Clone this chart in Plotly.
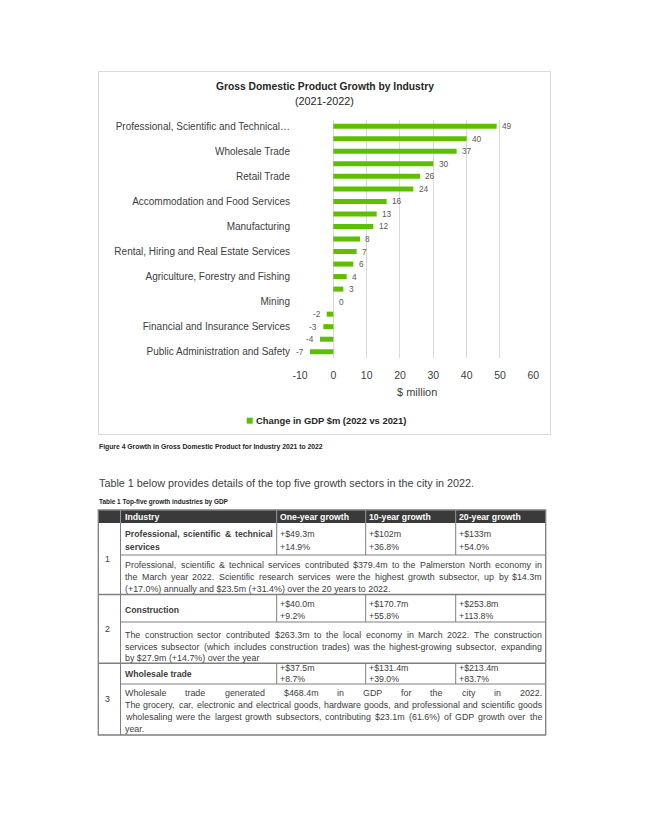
import plotly.graph_objects as go

PAGE_OFF = 8              # default body margin of the html page
W, H = 629, 818           # figure size so the page fits the 645x834 window
FONT = "Liberation Sans, Arial, sans-serif"

# ---------------- chart data ----------------
industries = [
    "Professional, Scientific and Technical Services",
    "Construction",
    "Wholesale Trade",
    "Health Care and Social Assistance",
    "Retail Trade",
    "Education and Training",
    "Accommodation and Food Services",
    "Transport, Postal and Warehousing",
    "Manufacturing",
    "Information Media and Telecommunications",
    "Rental, Hiring and Real Estate Services",
    "Administrative and Support Services",
    "Agriculture, Forestry and Fishing",
    "Arts and Recreation Services",
    "Mining",
    "Other Services",
    "Financial and Insurance Services",
    "Electricity, Gas, Water and Waste Services",
    "Public Administration and Safety",
]
gdp_change = [49, 40, 37, 30, 26, 24, 16, 13, 12, 8, 7, 6, 4, 3, 0, -2, -3, -4, -7]
tick_categories = industries[::2]
tick_labels = [
    "Professional, Scientific and Technical…",
    "Wholesale Trade",
    "Retail Trade",
    "Accommodation and Food Services",
    "Manufacturing",
    "Rental, Hiring and Real Estate Services",
    "Agriculture, Forestry and Fishing",
    "Mining",
    "Financial and Insurance Services",
    "Public Administration and Safety",
]
x_tick_values = [-10, 0, 10, 20, 30, 40, 50, 60]
chart_title = "Gross Domestic Product Growth by Industry"
chart_subtitle = "(2021-2022)"
x_title = "$ million"
series_name = "Change in GDP $m (2022 vs 2021)"

# ---------------- page text ----------------
figure_caption = "Figure 4 Growth in Gross Domestic Product for Industry 2021 to 2022"
intro_text = "Table 1 below provides details of the top five growth sectors in the city in 2022."
table_caption = "Table 1 Top-five growth industries by GDP"

# ---------------- table data ----------------
table_header = ["Industry", "One-year growth", "10-year growth", "20-year growth"]
table_rank = ["1", "2", "3"]
table_industry = [["Professional, scientific & technical", "services"],
                  ["Construction"],
                  ["Wholesale trade"]]
one_year_growth = [["+$49.3m", "+14.9%"], ["+$40.0m", "+9.2%"], ["+$37.5m", "+8.7%"]]
ten_year_growth = [["+$102m", "+36.8%"], ["+$170.7m", "+55.8%"], ["+$131.4m", "+39.0%"]]
twenty_year_growth = [["+$133m", "+54.0%"], ["+$253.8m", "+113.8%"], ["+$213.4m", "+83.7%"]]
descriptions = [
    ["Professional, scientific & technical services contributed $379.4m to the Palmerston North economy in",
     "the March year 2022. Scientific research services were the highest growth subsector, up by $14.3m",
     "(+17.0%) annually and $23.5m (+31.4%) over the 20 years to 2022."],
    ["The construction sector contributed $263.3m to the local economy in March 2022. The construction",
     "services subsector (which includes construction trades) was the highest-growing subsector, expanding",
     "by $27.9m (+14.7%) over the year"],
    ["Wholesale trade generated $468.4m in GDP for the city in 2022.",
     "The grocery, car, electronic and electrical goods, hardware goods, and professional and scientific goods",
     "wholesaling were the largest growth subsectors, contributing $23.1m (61.6%) of GDP growth over the",
     "year."],
]

# ---------------- styles ----------------
GREEN = "#5DBF00"
GRID = "#D9D9D9"
TXT = "#404040"
LINE = "#7F7F7F"
HEAD_BG = "#3A3A3A"

# Arial / Liberation Sans advance widths (1/1000 em) for text layout
REG, BOLD = {}, {}
for chars, w in [(" ,.;:!/ftI[]", 278), ("ijl", 222), ("r()-", 333), ("cksvxyzJ", 500),
                 ("abdeghnopqu0123456789$#?_L", 556), ("+=<>", 584), ("ABEKPSVXY&", 667),
                 ("FTZ", 611), ("CDHNRUw", 722), ("GOQ", 778), ("mM", 833), ("%", 889),
                 ("W", 944), ("…", 1000)]:
    for c in chars:
        REG[c] = w
for chars, w in [(" ,.;!/iIjl", 278), ("ft()-:", 333), ("r", 389), ("z", 500),
                 ("acesvxykJ0123456789$", 556), ("+", 584), ("bdghnopquFTLZ", 611),
                 ("EPSVXY", 667), ("ABCDHKNRU&", 722), ("GOQw", 778), ("M", 833),
                 ("m%", 889), ("W", 944)]:
    for c in chars:
        BOLD[c] = w


def measure(text, bold=False):
    t = BOLD if bold else REG
    return sum(t.get(c, 556) for c in text) / 1000.0


def px(x):
    return (x - PAGE_OFF) / W


def py(y):
    return 1 - (y - PAGE_OFF) / H


annotations = []
shapes = []


def text(x, y, s, size, bold=False, color=TXT, anchor="left"):
    annotations.append(dict(
        x=px(x), y=py(y), xref="paper", yref="paper", text=("<b>%s</b>" % s) if bold else s,
        showarrow=False, xanchor=anchor, yanchor="middle", borderpad=0, borderwidth=0,
        font=dict(family=FONT, size=size, color=color)))


def line_text(s, x0, x1, y, size, bold=False, justify=False, color=TXT):
    if not justify:
        text(x0, y, s, size, bold, color)
        return
    words = s.split(" ")
    widths = [measure(w, bold) * size for w in words]
    gap = (x1 - x0 - sum(widths)) / max(len(words) - 1, 1)
    x = x0
    for w, wd in zip(words, widths):
        text(x, y, w, size, bold, color)
        x += wd + gap


def hline(x0, x1, y, color=LINE, width=1):
    shapes.append(dict(type="line", xref="paper", yref="paper", x0=px(x0), x1=px(x1),
                       y0=py(y), y1=py(y), line=dict(color=color, width=width)))


def vline(x, y0, y1, color=LINE, width=1):
    shapes.append(dict(type="line", xref="paper", yref="paper", x0=px(x), x1=px(x),
                       y0=py(y0), y1=py(y1), line=dict(color=color, width=width)))


# ---------------- chart ----------------
fig = go.Figure(go.Bar(
    x=gdp_change, y=industries, orientation="h", width=0.4,
    marker=dict(color=GREEN, line=dict(width=0)), name=series_name,
    showlegend=False, hoverinfo="x+y"))

# data labels through data coordinates
for v, cat in zip(gdp_change, industries):
    annotations.append(dict(
        x=v, y=cat, xref="x", yref="y", text=str(v), showarrow=False,
        xanchor="left" if v >= 0 else "right", yanchor="middle",
        xshift=5.5 if v >= 0 else -6, borderpad=0, borderwidth=0,
        font=dict(family=FONT, size=8.3, color="#595959")))

# chart border
shapes.append(dict(type="rect", xref="paper", yref="paper", x0=px(98.5), x1=px(550.5),
                   y0=py(434.5), y1=py(71.5), line=dict(color=GRID, width=1)))

# titles
text(324.7, 87, chart_title, 10.3, bold=True, color="#262626", anchor="center")
text(324.7, 101.5, chart_subtitle, 10.8, color="#262626", anchor="center")
text(416.7, 392.3, x_title, 11, color=TXT, anchor="center")

# legend
shapes.append(dict(type="rect", xref="paper", yref="paper", x0=px(246.7), x1=px(252.7),
                   y0=py(423.7), y1=py(417.7), fillcolor=GREEN, line=dict(width=0)))
text(255.7, 420.7, series_name, 9.4, bold=True, color="#262626")

# ---------------- page text ----------------
text(98.5, 447.5, figure_caption, 224 / measure(figure_caption, True), bold=True, color="#262626")
text(98.5, 483, intro_text, 377 / measure(intro_text), color="#404040")
text(98.5, 501.5, table_caption, 130 / measure(table_caption, True), bold=True, color="#262626")

# ---------------- table ----------------
TL, TR = 98.3, 545.7
col_x = [TL, 120.5, 276.7, 365.7, 455.7, TR]
HT, HB = 510, 523
rows = [
    dict(top=HB, split=555, bottom=594.5, a=[534, 547], name=[534, 547], b=[565, 577, 589]),
    dict(top=594.5, split=622, bottom=663.3, a=[604.3, 615.5], name=[610], b=[634.5, 646.5, 658]),
    dict(top=663.3, split=684, bottom=735, a=[668.3, 679.3], name=[673.8], b=[693, 705.3, 717.3, 729.3]),
]

# header background and text
shapes.append(dict(type="rect", xref="paper", yref="paper", x0=px(TL), x1=px(TR),
                   y0=py(HB), y1=py(HT), fillcolor=HEAD_BG, line=dict(width=0)))
for i in range(1, 5):
    vline(col_x[i], HT, HB, color="#9A9A9A", width=1)
head_size = 8.7
for i, h in enumerate(table_header):
    text(col_x[i + 1] + (4.5 if i == 0 else 3.5), (HT + HB) / 2 + 0.3, h, head_size, bold=True, color="white")

cell_size = 8.8
desc_x0, desc_x1 = 125, 542
fit = min(
    (desc_x1 - desc_x0) / (measure(l) + 0.05)
    for d in descriptions for l in d[:-1]
)
desc_size = min(8.9, fit)

for r, row in enumerate(rows):
    # rank number
    text(107.5, (row["top"] + row["bottom"]) / 2, table_rank[r], cell_size, anchor="center")
    # industry name (bold, justified if wrapped)
    names = table_industry[r]
    for k, nm in enumerate(names):
        line_text(nm, 125, 272.5, row["name"][k], head_size, bold=True,
                  justify=(k < len(names) - 1))
    # growth stats
    for c, col in enumerate([one_year_growth, ten_year_growth, twenty_year_growth]):
        for k, s in enumerate(col[r]):
            text(col_x[c + 2] + 3.6, row["a"][k], s, cell_size)
    # description
    lines = descriptions[r]
    for k, ln in enumerate(lines):
        line_text(ln, desc_x0, desc_x1, row["b"][k], desc_size, justify=(k < len(lines) - 1))
    # grid lines
    hline(col_x[1], TR, row["split"], width=1)
    for cx in col_x[2:5]:
        vline(cx, row["top"], row["split"], width=1)
    if r < len(rows) - 1:
        hline(TL, TR, row["bottom"], width=1.5)

vline(col_x[1], HB, rows[-1]["bottom"], width=1)
shapes.append(dict(type="rect", xref="paper", yref="paper", x0=px(TL), x1=px(TR),
                   y0=py(rows[-1]["bottom"]), y1=py(HT), line=dict(color=LINE, width=1.3)))

fig.update_layout(
    template="none",
    width=W, height=H,
    margin=dict(l=0, r=0, t=0, b=0),
    paper_bgcolor="white", plot_bgcolor="white",
    font=dict(family=FONT, color=TXT),
    showlegend=False,
    bargap=0.6,
    xaxis=dict(
        domain=[px(300), px(533.3)], range=[-10, 60], tickmode="array",
        tickvals=x_tick_values, ticktext=[str(v) for v in x_tick_values],
        showgrid=True, gridcolor=GRID, gridwidth=1, zeroline=False, showline=False,
        ticks="", tickfont=dict(family=FONT, size=10.5, color=TXT),
        ticklabelstandoff=9, automargin=False, fixedrange=True,
    ),
    yaxis=dict(
        domain=[py(358), py(120)], type="category", categoryorder="array",
        categoryarray=industries, autorange="reversed",
        tickmode="array", tickvals=tick_categories, ticktext=tick_labels,
        showgrid=False, zeroline=False, showline=False, ticks="",
        tickfont=dict(family=FONT, size=10, color=TXT),
        ticklabelstandoff=9, automargin=False, fixedrange=True,
    ),
    annotations=annotations,
    shapes=shapes,
)

fig.write_html("out.html")
